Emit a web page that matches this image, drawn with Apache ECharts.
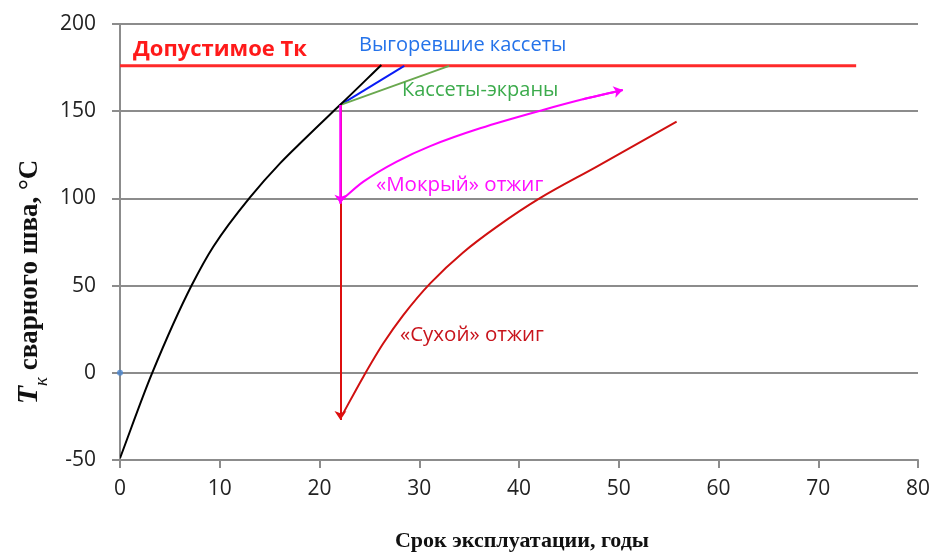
<!DOCTYPE html>
<html><head><meta charset="utf-8">
<script src="https://cdn.jsdelivr.net/npm/echarts@6/dist/echarts.min.js"></script>
<style>html,body{margin:0;padding:0;background:#fff}#c{width:935px;height:553px}</style>
</head><body><div id="c"></div>
<script>
// ---- data ----
const xTicks = [0, 10, 20, 30, 40, 50, 60, 70, 80];
const yTicks = [-50, 0, 50, 100, 150, 200];
const limitLine = [[0, 176], [73.8, 176]];
const baseCurve = [[0, -49], [3.2, -0.5], [7.2, 50.3], [9.35, 72.3], [13.03, 100.6], [16.04, 120.1], [18.4, 133.5], [20.9, 147.3], [22.05, 153.5], [26.2, 176.5]];
const burntCassettes = [[22.05, 153.5], [28.5, 176]];
const screenCassettes = [[22.05, 153.5], [33, 176]];
const wetDrop = [[22.1, 153.5], [22.1, 97]];
const wetCurve = [[22.2, 99], [24.4, 109.6], [27.7, 121], [31.1, 130], [36.1, 140.2], [42.4, 150.7], [46.4, 156.8], [50.4, 162.2]];
const dryDrop = [[22.1, 153.5], [22.1, -27]];
const dryCurve = [[22.3, -24], [24.4, -2.2], [26.4, 16.9], [28.4, 33.1], [31.1, 51.3], [34.4, 69], [37.8, 83.8], [42.1, 100.1], [47.8, 118.2], [55.8, 144]];
const originDot = [[0, 0]];
const labels = {
  limit: 'Допустимое Тк',
  burnt: 'Выгоревшие кассеты',
  screens: 'Кассеты-экраны',
  wet: '«Мокрый» отжиг',
  dry: '«Сухой» отжиг',
  xName: 'Срок эксплуатации, годы'
};

const chart = echarts.init(document.getElementById('c'), null, {renderer: 'canvas'});
const tickFont = '"Open Sans", "Noto Sans", sans-serif';
function lastSeg(a) { return [a[a.length - 2], a[a.length - 1]]; }
function arrowSeries(seg, color, w) {
  return {
    type: 'lines', coordinateSystem: 'cartesian2d', z: 5,
    symbol: ['none', 'arrow'], symbolSize: [0, 9],
    lineStyle: {color: color, width: w, opacity: 1},
    data: [{coords: seg}], silent: true
  };
}
function lineSeries(data, color, w, z) {
  return {
    type: 'line', data: data, showSymbol: false, symbol: 'none',
    lineStyle: {color: color, width: w}, z: z || 3, silent: true, animation: false
  };
}
// smooth monotone cubic (Fritsch–Butland) through the points, drawn via the axes' scales
function curveSeries(data, color, w, z) {
  return {
    type: 'custom', data: data, z: z || 3, silent: true, clip: true,
    encode: {x: 0, y: 1},
    renderItem: function (params, api) {
      if (params.dataIndex !== 0) return null;
      const p = data.map(d => api.coord(d));
      const n = p.length;
      const h = [], d = [], m = [];
      for (let k = 0; k < n - 1; k++) {
        h[k] = p[k + 1][0] - p[k][0];
        d[k] = (p[k + 1][1] - p[k][1]) / h[k];
      }
      m[0] = d[0]; m[n - 1] = d[n - 2];
      for (let k = 1; k < n - 1; k++) {
        if (d[k - 1] * d[k] <= 0) { m[k] = 0; continue; }
        const w1 = 2 * h[k] + h[k - 1], w2 = h[k] + 2 * h[k - 1];
        m[k] = (w1 + w2) / (w1 / d[k - 1] + w2 / d[k]);
      }
      let path = 'M' + p[0][0] + ' ' + p[0][1];
      for (let k = 0; k < n - 1; k++) {
        const c1 = [p[k][0] + h[k] / 3, p[k][1] + m[k] * h[k] / 3];
        const c2 = [p[k + 1][0] - h[k] / 3, p[k + 1][1] - m[k + 1] * h[k] / 3];
        path += ' C' + c1[0] + ' ' + c1[1] + ' ' + c2[0] + ' ' + c2[1] + ' ' + p[k + 1][0] + ' ' + p[k + 1][1];
      }
      return {type: 'path', shape: {pathData: path}, style: {stroke: color, fill: null, lineWidth: w}};
    }
  };
}
const option = {
  animation: false,
  grid: {left: 120, right: 17, top: 24, bottom: 93},
  xAxis: {
    type: 'value', min: 0, max: 80, interval: 10,
    axisLine: {show: true, onZero: false, lineStyle: {color: '#8c8c8c', width: 2}},
    axisTick: {show: true, length: 8, lineStyle: {color: '#8c8c8c', width: 2}},
    splitLine: {show: false},
    axisLabel: {fontFamily: tickFont, fontSize: 21, color: '#222', margin: 19}
  },
  yAxis: {
    type: 'value', min: -50, max: 200, interval: 50,
    axisLine: {show: true, onZero: false, lineStyle: {color: '#8c8c8c', width: 2}},
    axisTick: {show: true, length: 8, lineStyle: {color: '#8c8c8c', width: 2}},
    splitLine: {show: true, lineStyle: {color: '#8c8c8c', width: 2}},
    axisLabel: {fontFamily: tickFont, fontSize: 21, color: '#222', margin: 24}
  },
  graphic: [
    {type: 'text', x: 522, y: 541, z: 10,
      style: {text: labels.xName, font: 'bold 22px "Liberation Serif", serif', fill: '#111', align: 'center', verticalAlign: 'middle'}},
    {type: 'text', x: 27, y: 282, rotation: Math.PI / 2, z: 10,
      style: {
        text: '{t|T}{k|к}{n| сварного шва, °С}', align: 'center', verticalAlign: 'middle', fill: '#111',
        rich: {
          t: {font: 'italic bold 30px "Liberation Serif", serif', fill: '#111', lineHeight: 34, verticalAlign: 'bottom'},
          k: {font: 'italic 19px "Liberation Serif", serif', fill: '#111', lineHeight: 34, verticalAlign: 'bottom', padding: [0, 0, -7, 0]},
          n: {font: 'bold 27px "Liberation Serif", serif', fill: '#111', lineHeight: 34, verticalAlign: 'bottom'}
        }
      }},
    {type: 'text', x: 133, y: 50, z: 10,
      style: {text: labels.limit, font: 'bold 22px "Open Sans", sans-serif', fill: '#ff1a1a', verticalAlign: 'middle'}},
    {type: 'text', x: 359, y: 45, z: 10,
      style: {text: labels.burnt, font: '20px "Open Sans", sans-serif', fill: '#2573ea', verticalAlign: 'middle'}},
    {type: 'text', x: 402, y: 90, z: 10,
      style: {text: labels.screens, font: '20px "Open Sans", sans-serif', fill: '#3cab4c', verticalAlign: 'middle'}},
    {type: 'text', x: 376, y: 185, z: 10,
      style: {text: labels.wet, font: '20.5px "Open Sans", sans-serif', fill: '#ff10ff', verticalAlign: 'middle'}},
    {type: 'text', x: 400, y: 335, z: 10,
      style: {text: labels.dry, font: '20.5px "Open Sans", sans-serif', fill: '#c8141c', verticalAlign: 'middle'}}
  ],
  series: [
    lineSeries(limitLine, '#ff2a2a', 3, 2),
    curveSeries(baseCurve, '#000000', 2, 4),
    lineSeries(burntCassettes, '#0a1cf5', 2, 3),
    lineSeries(screenCassettes, '#6aa84f', 2, 3),
    curveSeries(dryCurve, '#d01010', 2, 3),
    arrowSeries(dryDrop, '#dd0f0f', 2),
    curveSeries(wetCurve, '#ff00ff', 2, 4),
    arrowSeries(wetDrop, '#ff00ff', 2.5),
    arrowSeries(lastSeg(wetCurve), '#ff00ff', 2),
    {type: 'scatter', data: originDot, symbolSize: 6, itemStyle: {color: '#4a86d0'}, z: 6, silent: true}
  ]
};
chart.setOption(option);
</script></body></html>
